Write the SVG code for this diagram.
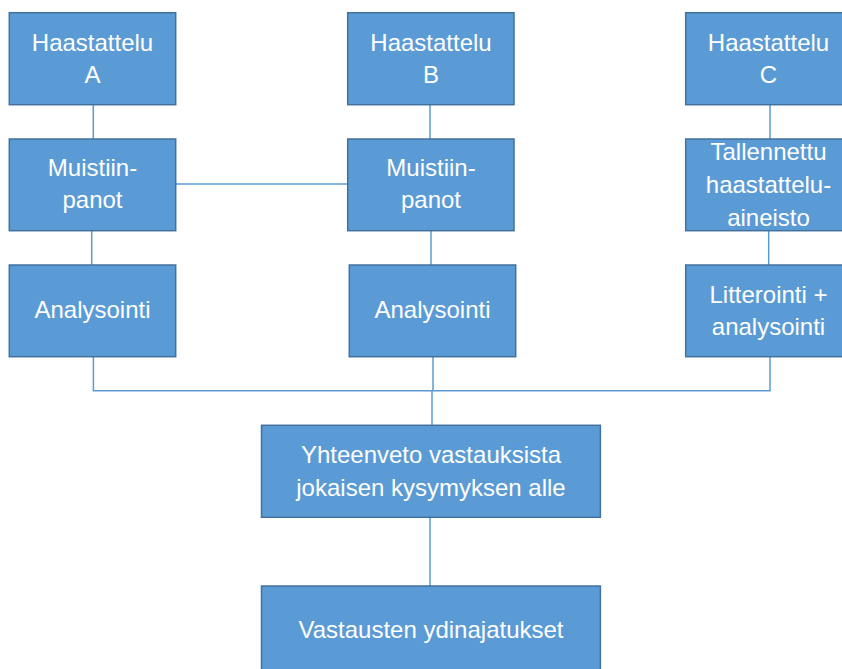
<svg xmlns="http://www.w3.org/2000/svg" width="842" height="669" viewBox="0 0 842 669">
<style>
.box{fill:#5B9BD5;stroke:#41719C;stroke-width:1.5}
.t{font-family:"Liberation Sans",Arial,sans-serif;font-size:24px;fill:#FFFFFF;text-anchor:middle}
.c{fill:none;stroke:#5B9BD5;stroke-width:1.5}
</style>
<rect width="842" height="669" fill="#FFFFFF"/>
<g id="connectors">
<line class="c" x1="93.3" y1="104.7" x2="93.3" y2="139"/>
<line class="c" x1="91.7" y1="230.7" x2="91.7" y2="265"/>
<line class="c" x1="175.7" y1="184" x2="347.7" y2="184"/>
<line class="c" x1="430" y1="104.7" x2="430" y2="139"/>
<line class="c" x1="431" y1="230.7" x2="431" y2="265"/>
<line class="c" x1="770" y1="104.7" x2="770" y2="139"/>
<line class="c" x1="768.7" y1="230.7" x2="768.7" y2="265"/>
<polyline class="c" points="93.4,356.7 93.4,390.7 770,390.7 770,356.7"/>
<line class="c" x1="433" y1="356.7" x2="433" y2="390.7"/>
<line class="c" x1="432" y1="390.7" x2="432" y2="425.3"/>
<line class="c" x1="430" y1="517.3" x2="430" y2="586"/>
</g>
<g id="haastattelu-a">
<rect class="box" x="9.3" y="12.7" width="166.4" height="92"/>
<text class="t" x="92.5" y="50.7">Haastattelu</text>
<text class="t" x="92.5" y="83.3">A</text>
</g>
<g id="haastattelu-b">
<rect class="box" x="347.7" y="12.7" width="166.3" height="92"/>
<text class="t" x="431" y="50.7">Haastattelu</text>
<text class="t" x="431" y="83.3">B</text>
</g>
<g id="haastattelu-c">
<rect class="box" x="685.7" y="12.7" width="166.3" height="92"/>
<text class="t" x="768.5" y="50.7">Haastattelu</text>
<text class="t" x="768.5" y="83.3">C</text>
</g>
<g id="muistiinpanot-a">
<rect class="box" x="9.3" y="139" width="166.4" height="91.7"/>
<text class="t" x="92.5" y="175.7">Muistiin-</text>
<text class="t" x="92.5" y="208.3">panot</text>
</g>
<g id="muistiinpanot-b">
<rect class="box" x="347.7" y="139" width="166.3" height="91.7"/>
<text class="t" x="431" y="175.7">Muistiin-</text>
<text class="t" x="431" y="208.3">panot</text>
</g>
<g id="tallennettu-c">
<rect class="box" x="685.7" y="139" width="166.3" height="91.7"/>
<text class="t" x="768.5" y="160">Tallennettu</text>
<text class="t" x="768.5" y="192.7">haastattelu-</text>
<text class="t" x="768.5" y="226">aineisto</text>
</g>
<g id="analysointi-a">
<rect class="box" x="9.3" y="265" width="166.4" height="91.7"/>
<text class="t" x="92.5" y="318.3">Analysointi</text>
</g>
<g id="analysointi-b">
<rect class="box" x="349.3" y="265" width="166.4" height="91.7"/>
<text class="t" x="432.5" y="318.3">Analysointi</text>
</g>
<g id="litterointi-c">
<rect class="box" x="685.7" y="265" width="166.3" height="91.7"/>
<text class="t" x="768.5" y="303.3">Litterointi +</text>
<text class="t" x="768.5" y="335">analysointi</text>
</g>
<g id="yhteenveto">
<rect class="box" x="261.5" y="425.3" width="338.9" height="92"/>
<text class="t" x="431" y="462.7">Yhteenveto vastauksista</text>
<text class="t" x="431" y="495.7">jokaisen kysymyksen alle</text>
</g>
<g id="ydinajatukset">
<rect class="box" x="261.5" y="586" width="338.9" height="92"/>
<text class="t" x="431" y="638.3">Vastausten ydinajatukset</text>
</g>
</svg>
